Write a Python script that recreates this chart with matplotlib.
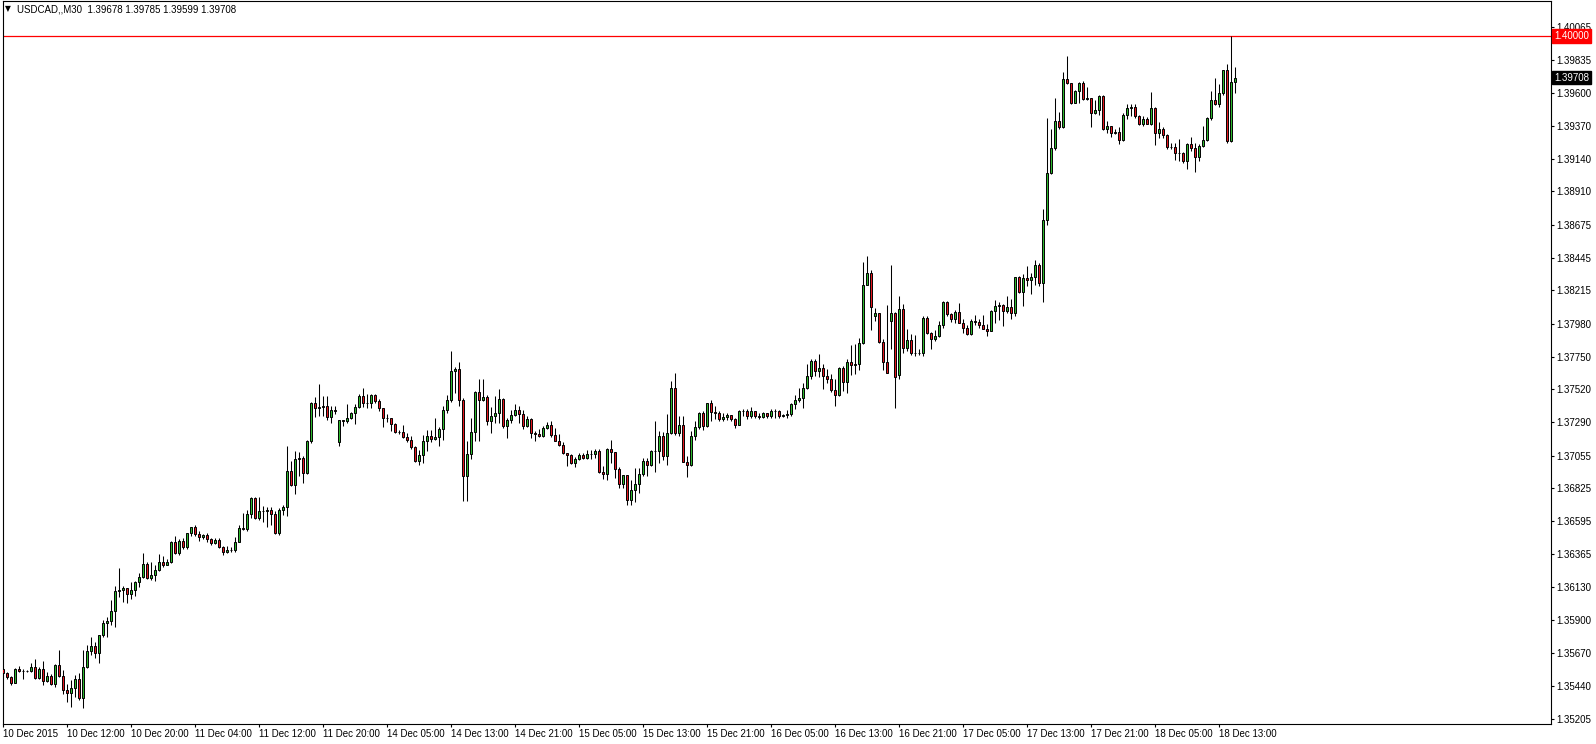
import numpy as np
import matplotlib.pyplot as plt

plt.rcParams['font.family'] = ['Liberation Sans', 'DejaVu Sans']

# USDCAD M30 candles, 10 Dec 2015 04:00 .. 18 Dec 2015 15:00
opens = [
    1.35553, 1.35525, 1.35499, 1.35461, 1.35555, 1.35541, 1.35541, 1.35541, 1.35572, 1.35494,
    1.35555, 1.35475, 1.35506, 1.35452, 1.35583, 1.35506, 1.35412, 1.35391, 1.35424, 1.35485,
    1.35353, 1.35572, 1.35682, 1.35720, 1.35666, 1.35795, 1.35877, 1.35892, 1.35962, 1.36103,
    1.36113, 1.36127, 1.36080, 1.36110, 1.36169, 1.36204, 1.36294, 1.36193, 1.36216, 1.36251,
    1.36310, 1.36286, 1.36308, 1.36451, 1.36369, 1.36458, 1.36416, 1.36510, 1.36550, 1.36505,
    1.36482, 1.36500, 1.36470, 1.36439, 1.36462, 1.36415, 1.36380, 1.36390, 1.36395, 1.36450,
    1.36549, 1.36539, 1.36647, 1.36755, 1.36619, 1.36666, 1.36662, 1.36673, 1.36643, 1.36509,
    1.36673, 1.36694, 1.36948, 1.36849, 1.37033, 1.37037, 1.36932, 1.37155, 1.37421, 1.37390,
    1.37397, 1.37402, 1.37324, 1.37378, 1.37150, 1.37301, 1.37294, 1.37319, 1.37355, 1.37395,
    1.37472, 1.37425, 1.37421, 1.37479, 1.37437, 1.37390, 1.37319, 1.37315, 1.37277, 1.37221,
    1.37221, 1.37183, 1.37167, 1.37113, 1.37019, 1.37061, 1.37160, 1.37195, 1.37174, 1.37188,
    1.37244, 1.37378, 1.37442, 1.37648, 1.37660, 1.37442, 1.36913, 1.37068, 1.37221, 1.37500,
    1.37444, 1.37465, 1.37296, 1.37329, 1.37352, 1.37451, 1.37261, 1.37303, 1.37338, 1.37374,
    1.37343, 1.37265, 1.37308, 1.37210, 1.37203, 1.37191, 1.37250, 1.37266, 1.37196, 1.37160,
    1.37130, 1.37073, 1.37059, 1.37003, 1.37031, 1.37057, 1.37038, 1.37069, 1.37066, 1.37085,
    1.36940, 1.36923, 1.37104, 1.37081, 1.36961, 1.36855, 1.36916, 1.36744, 1.36815, 1.36857,
    1.36927, 1.37014, 1.36991, 1.37085, 1.37087, 1.37195, 1.37054, 1.37214, 1.37527, 1.37214,
    1.37266, 1.37010, 1.36991, 1.37195, 1.37254, 1.37355, 1.37261, 1.37421, 1.37362, 1.37355,
    1.37308, 1.37327, 1.37336, 1.37308, 1.37266, 1.37367, 1.37365, 1.37330, 1.37367, 1.37335,
    1.37325, 1.37355, 1.37330, 1.37371, 1.37365, 1.37330, 1.37340, 1.37345, 1.37414, 1.37444,
    1.37456, 1.37531, 1.37613, 1.37719, 1.37649, 1.37670, 1.37613, 1.37590, 1.37515, 1.37477,
    1.37670, 1.37571, 1.37711, 1.37688, 1.37695, 1.37843, 1.38252, 1.38336, 1.38031, 1.38054,
    1.37855, 1.37714, 1.37996, 1.38059, 1.37617, 1.38082, 1.37812, 1.37864, 1.37772, 1.37777,
    1.37775, 1.38019, 1.37913, 1.37871, 1.37894, 1.37970, 1.38134, 1.38047, 1.38015, 1.38062,
    1.37986, 1.37951, 1.37911, 1.37998, 1.37991, 1.37968, 1.37944, 1.37928, 1.38069, 1.38104,
    1.38109, 1.38073, 1.38097, 1.38057, 1.38308, 1.38203, 1.38301, 1.38285, 1.38308, 1.38393,
    1.38268, 1.38710, 1.39039, 1.39216, 1.39401, 1.39361, 1.39695, 1.39671, 1.39530, 1.39612,
    1.39671, 1.39561, 1.39563, 1.39460, 1.39483, 1.39577, 1.39349, 1.39370, 1.39321, 1.39328,
    1.39267, 1.39443, 1.39497, 1.39500, 1.39436, 1.39380, 1.39420, 1.39384, 1.39497, 1.39321,
    1.39349, 1.39302, 1.39220, 1.39220, 1.39180, 1.39180, 1.39121, 1.39243, 1.39213, 1.39149,
    1.39229, 1.39267, 1.39422, 1.39549, 1.39521, 1.39601, 1.39760, 1.39262, 1.39678,
]
highs = [
    1.35565, 1.35532, 1.35508, 1.35560, 1.35579, 1.35555, 1.35548, 1.35595, 1.35626, 1.35569,
    1.35612, 1.35536, 1.35518, 1.35588, 1.35689, 1.35548, 1.35454, 1.35478, 1.35513, 1.35525,
    1.35689, 1.35724, 1.35783, 1.35748, 1.35795, 1.35900, 1.35922, 1.36044, 1.36141, 1.36263,
    1.36141, 1.36127, 1.36164, 1.36176, 1.36228, 1.36373, 1.36310, 1.36310, 1.36286, 1.36362,
    1.36352, 1.36329, 1.36456, 1.36493, 1.36467, 1.36474, 1.36514, 1.36552, 1.36564, 1.36526,
    1.36507, 1.36510, 1.36479, 1.36473, 1.36478, 1.36420, 1.36420, 1.36415, 1.36485, 1.36568,
    1.36654, 1.36669, 1.36767, 1.36767, 1.36767, 1.36704, 1.36697, 1.36697, 1.36662, 1.36685,
    1.36709, 1.37120, 1.37019, 1.37089, 1.37080, 1.37049, 1.37167, 1.37432, 1.37465, 1.37554,
    1.37472, 1.37472, 1.37402, 1.37402, 1.37301, 1.37301, 1.37418, 1.37362, 1.37414, 1.37484,
    1.37526, 1.37484, 1.37489, 1.37489, 1.37449, 1.37390, 1.37343, 1.37319, 1.37284, 1.37237,
    1.37268, 1.37214, 1.37190, 1.37120, 1.37096, 1.37197, 1.37237, 1.37237, 1.37315, 1.37254,
    1.37402, 1.37479, 1.37789, 1.37677, 1.37714, 1.37456, 1.37155, 1.37319, 1.37507, 1.37590,
    1.37590, 1.37479, 1.37395, 1.37472, 1.37519, 1.37456, 1.37319, 1.37378, 1.37414, 1.37402,
    1.37378, 1.37331, 1.37320, 1.37226, 1.37238, 1.37262, 1.37290, 1.37297, 1.37250, 1.37203,
    1.37151, 1.37073, 1.37069, 1.37045, 1.37073, 1.37073, 1.37097, 1.37097, 1.37102, 1.37102,
    1.36979, 1.37109, 1.37163, 1.37081, 1.36973, 1.36916, 1.36921, 1.36881, 1.36967, 1.36967,
    1.37038, 1.37038, 1.37097, 1.37296, 1.37226, 1.37219, 1.37343, 1.37578, 1.37637, 1.37332,
    1.37332, 1.37050, 1.37226, 1.37296, 1.37362, 1.37367, 1.37426, 1.37442, 1.37402, 1.37367,
    1.37355, 1.37350, 1.37336, 1.37320, 1.37374, 1.37383, 1.37379, 1.37395, 1.37367, 1.37355,
    1.37360, 1.37355, 1.37379, 1.37383, 1.37374, 1.37345, 1.37374, 1.37421, 1.37477, 1.37531,
    1.37566, 1.37696, 1.37731, 1.37731, 1.37766, 1.37696, 1.37660, 1.37625, 1.37590, 1.37679,
    1.37684, 1.37730, 1.37829, 1.37836, 1.37883, 1.38411, 1.38458, 1.38360, 1.38094, 1.38059,
    1.37871, 1.38111, 1.38393, 1.38064, 1.38176, 1.38118, 1.37942, 1.37906, 1.37899, 1.37805,
    1.38031, 1.38031, 1.37923, 1.37937, 1.38000, 1.38141, 1.38141, 1.38057, 1.38076, 1.38128,
    1.38010, 1.37968, 1.38010, 1.38038, 1.38015, 1.38038, 1.37975, 1.38076, 1.38146, 1.38132,
    1.38116, 1.38174, 1.38151, 1.38311, 1.38316, 1.38327, 1.38386, 1.38339, 1.38428, 1.38405,
    1.38785, 1.39425, 1.39345, 1.39568, 1.39467, 1.39749, 1.39859, 1.39671, 1.39624, 1.39678,
    1.39685, 1.39643, 1.39563, 1.39554, 1.39584, 1.39584, 1.39403, 1.39370, 1.39349, 1.39361,
    1.39460, 1.39521, 1.39526, 1.39526, 1.39443, 1.39436, 1.39431, 1.39605, 1.39502, 1.39396,
    1.39361, 1.39314, 1.39248, 1.39248, 1.39279, 1.39185, 1.39248, 1.39291, 1.39248, 1.39239,
    1.39366, 1.39431, 1.39612, 1.39702, 1.39666, 1.39765, 1.39803, 1.40000, 1.39785,
]
lows = [
    1.35501, 1.35489, 1.35447, 1.35457, 1.35532, 1.35485, 1.35532, 1.35536, 1.35489, 1.35489,
    1.35447, 1.35466, 1.35442, 1.35431, 1.35501, 1.35384, 1.35325, 1.35290, 1.35360, 1.35337,
    1.35283, 1.35560, 1.35654, 1.35630, 1.35595, 1.35783, 1.35781, 1.35863, 1.35852, 1.36063,
    1.36028, 1.36023, 1.36047, 1.36068, 1.36134, 1.36193, 1.36185, 1.36181, 1.36176, 1.36247,
    1.36275, 1.36286, 1.36303, 1.36362, 1.36357, 1.36399, 1.36397, 1.36491, 1.36491, 1.36456,
    1.36470, 1.36451, 1.36428, 1.36431, 1.36403, 1.36360, 1.36370, 1.36375, 1.36380, 1.36445,
    1.36532, 1.36525, 1.36615, 1.36610, 1.36603, 1.36591, 1.36556, 1.36568, 1.36502, 1.36497,
    1.36638, 1.36633, 1.36838, 1.36784, 1.36908, 1.36861, 1.36925, 1.37143, 1.37324, 1.37331,
    1.37331, 1.37301, 1.37284, 1.37343, 1.37124, 1.37261, 1.37284, 1.37308, 1.37277, 1.37390,
    1.37395, 1.37390, 1.37390, 1.37425, 1.37371, 1.37254, 1.37291, 1.37225, 1.37214, 1.37207,
    1.37179, 1.37148, 1.37103, 1.37009, 1.36986, 1.37002, 1.37084, 1.37150, 1.37167, 1.37120,
    1.37167, 1.37355, 1.37432, 1.37496, 1.37402, 1.36737, 1.36737, 1.37033, 1.37155, 1.37155,
    1.37437, 1.37268, 1.37214, 1.37284, 1.37284, 1.37249, 1.37178, 1.37284, 1.37331, 1.37284,
    1.37242, 1.37254, 1.37179, 1.37160, 1.37184, 1.37184, 1.37238, 1.37186, 1.37156, 1.37125,
    1.37069, 1.36984, 1.36996, 1.36975, 1.37022, 1.37027, 1.37027, 1.37031, 1.37038, 1.36933,
    1.36890, 1.36885, 1.37003, 1.36897, 1.36827, 1.36827, 1.36709, 1.36709, 1.36732, 1.36791,
    1.36909, 1.36913, 1.36979, 1.36937, 1.37003, 1.37026, 1.36991, 1.37207, 1.37202, 1.37190,
    1.37008, 1.36904, 1.36984, 1.37162, 1.37238, 1.37233, 1.37254, 1.37296, 1.37313, 1.37296,
    1.37296, 1.37303, 1.37296, 1.37249, 1.37266, 1.37330, 1.37310, 1.37320, 1.37320, 1.37310,
    1.37315, 1.37315, 1.37320, 1.37320, 1.37320, 1.37325, 1.37320, 1.37330, 1.37379, 1.37430,
    1.37390, 1.37524, 1.37590, 1.37613, 1.37609, 1.37524, 1.37566, 1.37501, 1.37402, 1.37472,
    1.37508, 1.37495, 1.37617, 1.37624, 1.37655, 1.37836, 1.38252, 1.37937, 1.38000, 1.37848,
    1.37655, 1.37636, 1.37801, 1.37389, 1.37594, 1.37777, 1.37789, 1.37758, 1.37754, 1.37758,
    1.37754, 1.37906, 1.37805, 1.37859, 1.37890, 1.37953, 1.38036, 1.37991, 1.37987, 1.37982,
    1.37916, 1.37904, 1.37904, 1.37968, 1.37951, 1.37940, 1.37897, 1.37928, 1.37987, 1.38005,
    1.37963, 1.38057, 1.38015, 1.38033, 1.38198, 1.38104, 1.38245, 1.38186, 1.38250, 1.38245,
    1.38132, 1.38673, 1.39032, 1.39201, 1.39349, 1.39354, 1.39666, 1.39521, 1.39530, 1.39530,
    1.39554, 1.39554, 1.39361, 1.39455, 1.39443, 1.39342, 1.39319, 1.39291, 1.39309, 1.39244,
    1.39262, 1.39420, 1.39436, 1.39427, 1.39373, 1.39366, 1.39380, 1.39373, 1.39232, 1.39286,
    1.39286, 1.39208, 1.39208, 1.39131, 1.39126, 1.39107, 1.39067, 1.39192, 1.39044, 1.39121,
    1.39220, 1.39262, 1.39413, 1.39514, 1.39502, 1.39584, 1.39248, 1.39255, 1.39599,
]
closes = [
    1.35525, 1.35499, 1.35461, 1.35555, 1.35541, 1.35541, 1.35541, 1.35572, 1.35494, 1.35555,
    1.35475, 1.35506, 1.35452, 1.35583, 1.35506, 1.35412, 1.35391, 1.35424, 1.35485, 1.35353,
    1.35572, 1.35682, 1.35720, 1.35666, 1.35795, 1.35877, 1.35892, 1.35962, 1.36103, 1.36113,
    1.36127, 1.36080, 1.36110, 1.36169, 1.36204, 1.36294, 1.36193, 1.36216, 1.36251, 1.36310,
    1.36286, 1.36308, 1.36451, 1.36369, 1.36458, 1.36416, 1.36510, 1.36550, 1.36505, 1.36482,
    1.36500, 1.36470, 1.36439, 1.36462, 1.36415, 1.36380, 1.36390, 1.36395, 1.36450, 1.36549,
    1.36539, 1.36647, 1.36755, 1.36619, 1.36666, 1.36662, 1.36673, 1.36643, 1.36509, 1.36673,
    1.36694, 1.36948, 1.36849, 1.37033, 1.37037, 1.36932, 1.37155, 1.37421, 1.37390, 1.37397,
    1.37402, 1.37324, 1.37378, 1.37371, 1.37301, 1.37294, 1.37319, 1.37355, 1.37395, 1.37472,
    1.37425, 1.37421, 1.37479, 1.37437, 1.37390, 1.37319, 1.37315, 1.37277, 1.37221, 1.37221,
    1.37183, 1.37167, 1.37113, 1.37019, 1.37061, 1.37160, 1.37195, 1.37174, 1.37188, 1.37244,
    1.37378, 1.37442, 1.37648, 1.37660, 1.37442, 1.36913, 1.37068, 1.37221, 1.37500, 1.37444,
    1.37465, 1.37296, 1.37329, 1.37352, 1.37451, 1.37261, 1.37303, 1.37338, 1.37374, 1.37343,
    1.37265, 1.37308, 1.37210, 1.37203, 1.37191, 1.37250, 1.37266, 1.37196, 1.37160, 1.37130,
    1.37073, 1.37059, 1.37003, 1.37031, 1.37057, 1.37038, 1.37069, 1.37066, 1.37085, 1.36940,
    1.36923, 1.37104, 1.37081, 1.36961, 1.36855, 1.36916, 1.36744, 1.36815, 1.36857, 1.36927,
    1.37014, 1.36991, 1.37085, 1.37087, 1.37195, 1.37054, 1.37214, 1.37527, 1.37214, 1.37266,
    1.37010, 1.36991, 1.37195, 1.37254, 1.37355, 1.37261, 1.37421, 1.37362, 1.37355, 1.37308,
    1.37327, 1.37336, 1.37308, 1.37266, 1.37367, 1.37365, 1.37330, 1.37367, 1.37335, 1.37325,
    1.37355, 1.37330, 1.37371, 1.37365, 1.37330, 1.37340, 1.37345, 1.37414, 1.37444, 1.37456,
    1.37531, 1.37613, 1.37719, 1.37649, 1.37670, 1.37613, 1.37590, 1.37515, 1.37477, 1.37670,
    1.37571, 1.37711, 1.37688, 1.37695, 1.37843, 1.38252, 1.38336, 1.38099, 1.38054, 1.37855,
    1.37714, 1.37636, 1.38054, 1.37608, 1.38082, 1.37812, 1.37864, 1.37772, 1.37777, 1.37775,
    1.38019, 1.37913, 1.37871, 1.37894, 1.37970, 1.38134, 1.38047, 1.38015, 1.38062, 1.37986,
    1.37951, 1.37911, 1.37998, 1.37991, 1.37968, 1.37944, 1.37928, 1.38069, 1.38104, 1.38109,
    1.38073, 1.38097, 1.38057, 1.38308, 1.38203, 1.38301, 1.38285, 1.38308, 1.38393, 1.38268,
    1.38710, 1.39039, 1.39216, 1.39401, 1.39361, 1.39695, 1.39671, 1.39530, 1.39612, 1.39671,
    1.39561, 1.39563, 1.39460, 1.39483, 1.39577, 1.39349, 1.39370, 1.39321, 1.39328, 1.39267,
    1.39443, 1.39497, 1.39500, 1.39436, 1.39380, 1.39420, 1.39384, 1.39497, 1.39321, 1.39349,
    1.39302, 1.39220, 1.39220, 1.39180, 1.39180, 1.39121, 1.39243, 1.39213, 1.39149, 1.39229,
    1.39267, 1.39422, 1.39549, 1.39521, 1.39601, 1.39760, 1.39262, 1.39674, 1.39708,
]

price_ticks = [1.40065, 1.39835, 1.39600, 1.39370, 1.39140, 1.38910, 1.38675, 1.38445,
               1.38215, 1.37980, 1.37750, 1.37520, 1.37290, 1.37055, 1.36825, 1.36595,
               1.36365, 1.36130, 1.35900, 1.35670, 1.35440, 1.35205]
time_labels = ['10 Dec 2015', '10 Dec 12:00', '10 Dec 20:00', '11 Dec 04:00', '11 Dec 12:00',
               '11 Dec 20:00', '14 Dec 05:00', '14 Dec 13:00', '14 Dec 21:00', '15 Dec 05:00',
               '15 Dec 13:00', '15 Dec 21:00', '16 Dec 05:00', '16 Dec 13:00', '16 Dec 21:00',
               '17 Dec 05:00', '17 Dec 13:00', '17 Dec 21:00', '18 Dec 05:00', '18 Dec 13:00']
time_label_bars = list(range(0, 16 * len(time_labels), 16))

alert_level = 1.40000
header = 'USDCAD,,M30  1.39678 1.39785 1.39599 1.39708'

o = np.array(opens)
h = np.array(highs)
l = np.array(lows)
c = np.array(closes)
x = np.arange(len(c))

colors = np.where(c > o, '#2db82d', np.where(c < o, '#e3161e', 'black'))

W, H = 1596, 744
fig = plt.figure(figsize=(W / 100, H / 100), dpi=100)
ax = fig.add_axes([2.7 / W, 20 / H, (1551 - 2.7) / W, 723 / H])

ax.vlines(x, l, h, color='black', lw=0.75, zorder=2)
ax.bar(x, np.abs(c - o), bottom=np.minimum(o, c), width=0.55, color=colors,
       edgecolor='black', linewidth=0.7, zorder=3)

ax.axhline(alert_level, color='red', lw=0.9, zorder=1)

ax.set_xlim(-0.15, 386.9)
ax.set_ylim(1.35170, 1.40246)

ax.yaxis.tick_right()
ax.set_yticks(price_ticks)
ax.set_yticklabels([f'{v:.5f}' for v in price_ticks])
ax.tick_params(axis='y', direction='out', length=2.5, width=0.8, pad=1.5, labelsize=7)

ax.set_xticks(time_label_bars)
ax.set_xticklabels(time_labels, ha='left')
ax.tick_params(axis='x', direction='out', length=2.5, width=0.8, pad=1, labelsize=7)

for s in ax.spines.values():
    s.set_color('black')
    s.set_linewidth(0.8)

ytr = ax.get_yaxis_transform()
ax.text(1.002, alert_level, f'{alert_level:.5f}', transform=ytr, ha='left', va='center',
        color='white', fontsize=7,
        bbox=dict(boxstyle='square,pad=0.18', fc='red', ec='red'))
ax.text(1.002, closes[-1], f'{closes[-1]:.5f}', transform=ytr, ha='left', va='center',
        color='white', fontsize=7,
        bbox=dict(boxstyle='square,pad=0.18', fc='black', ec='black'))

fig.text(5 / W, 1 - 9 / H, '\u25bc', fontsize=5.5, va='center', ha='left',
         family='DejaVu Sans')
fig.text(17 / W, 1 - 9 / H, header, fontsize=7, va='center', ha='left')

fig.savefig('out.png', dpi=100)
